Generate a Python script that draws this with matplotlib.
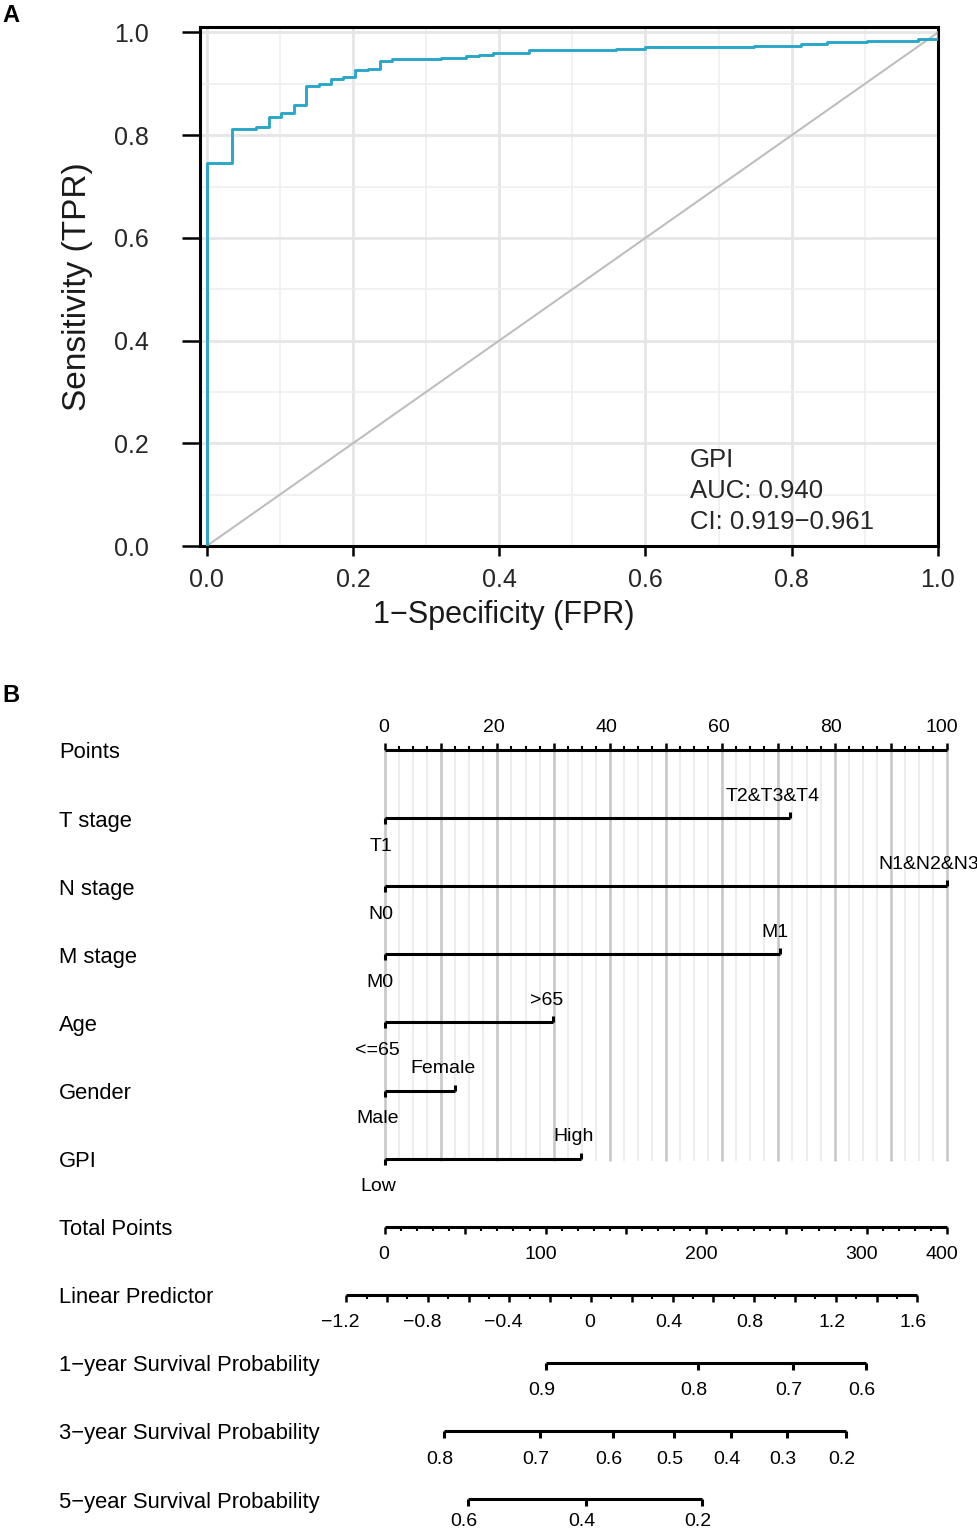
import matplotlib
matplotlib.use('Agg')
import matplotlib.pyplot as plt
from matplotlib.transforms import offset_copy, blended_transform_factory

plt.rcParams['font.family'] = ['Liberation Sans', 'DejaVu Sans']

# ---------------- Panel A data (ROC) ----------------
fpr = [0.0, 0.0, 0.034, 0.068, 0.085, 0.101, 0.119, 0.136, 0.154, 0.170, 0.186,
       0.203, 0.220, 0.237, 0.254, 0.321, 0.355, 0.373, 0.391, 0.441, 0.560,
       0.600, 0.749, 0.813, 0.848, 0.903, 0.973, 1.0]
tpr = [0.0, 0.745, 0.8125, 0.816, 0.836, 0.844, 0.859, 0.896, 0.899, 0.909, 0.9125,
       0.926, 0.929, 0.944, 0.949, 0.950, 0.954, 0.956, 0.961, 0.965, 0.967,
       0.972, 0.974, 0.977, 0.982, 0.984, 0.988, 1.0]
roc_ticks = [0.0, 0.2, 0.4, 0.6, 0.8, 1.0]
roc_minor = [0.1, 0.3, 0.5, 0.7, 0.9]
roc_text = ['GPI', 'AUC: 0.940', 'CI: 0.919\u22120.961']

# ---------------- Panel B data (nomogram) ----------------
points_labels = [0, 20, 40, 60, 80, 100]
points_major = [0, 10, 20, 30, 40, 50, 60, 70, 80, 90, 100]
variables = ['T stage', 'N stage', 'M stage', 'Age', 'Gender', 'GPI']
low_labels = ['T1', 'N0', 'M0', '<=65', 'Male', 'Low']
high_labels = ['T2&T3&T4', 'N1&N2&N3', 'M1', '>65', 'Female', 'High']
high_points = [72.0, 100.0, 70.2, 29.9, 12.4, 34.9]

total_major = [0, 50, 100, 150, 200, 250, 300, 350]
total_label_pos = [0, 100, 200, 300, 350]
total_label_txt = ['0', '100', '200', '300', '400']
total_max = 350

lp_major = [-1.2, -1.0, -0.8, -0.6, -0.4, -0.2, 0.0, 0.2, 0.4, 0.6, 0.8, 1.0, 1.2, 1.4, 1.6]
lp_minor = [-1.1, -0.9, -0.7, -0.5, -0.3, -0.1, 0.1, 0.3, 0.5, 0.7, 0.9, 1.1, 1.3, 1.5]
lp_labels = [-1.2, -0.8, -0.4, 0.0, 0.4, 0.8, 1.2, 1.6]

surv1_prob = ['0.9', '0.8', '0.7', '0.6']
surv1_lp = [-0.222, 0.523, 0.990, 1.348]
surv3_prob = ['0.8', '0.7', '0.6', '0.5', '0.4', '0.3', '0.2']
surv3_lp = [-0.721, -0.250, 0.106, 0.407, 0.686, 0.959, 1.250]
surv5_prob = ['0.6', '0.4', '0.2']
surv5_lp = [-0.603, -0.025, 0.543]

row_names = ['Points'] + variables + ['Total Points', 'Linear Predictor',
             '1\u2212year Survival Probability', '3\u2212year Survival Probability',
             '5\u2212year Survival Probability']

# ---------------- Figure ----------------
W, H, DPI = 978, 1531, 100
fig = plt.figure(figsize=(W / DPI, H / DPI), dpi=DPI)
fig.patch.set_facecolor('white')

# ===== Panel A =====
ax = fig.add_axes([200 / W, 1 - 546 / H, 738 / W, 519 / H])
ax.set_xlim(-0.00916, 1.0)
ax.set_ylim(0.0, 1.0107)
ax.set_xticks(roc_ticks)
ax.set_yticks(roc_ticks)
ax.set_xticks(roc_minor, minor=True)
ax.set_yticks(roc_minor, minor=True)
ax.set_xticklabels([f'{t:.1f}' for t in roc_ticks])
ax.set_yticklabels([f'{t:.1f}' for t in roc_ticks])
ax.grid(which='major', color='#E6E6E6', lw=2.0)
ax.grid(which='minor', color='#EEEEEE', lw=1.1)
ax.set_axisbelow(True)
ax.plot([0, 1], [0, 1], color='#BEBEBE', lw=1.5, zorder=2)
ax.plot(fpr, tpr, drawstyle='steps-post', color='#2AA7C8', lw=2.1, zorder=3)
for s in ax.spines.values():
    s.set_linewidth(2.2)
    s.set_color('black')
ax.tick_params(axis='y', which='major', direction='out', length=13, width=1.8,
               labelsize=18, pad=24, labelcolor='#262626')
ax.tick_params(axis='x', which='major', direction='out', length=7.5, width=1.8,
               labelsize=18, pad=8, labelcolor='#262626')
ax.tick_params(which='minor', length=0)
for i, t in enumerate(roc_text):
    ax.text(0.661, 0.167 - i * 0.0604, t, fontsize=18.5, ha='left', va='center',
            color='#262626')
fig.text(503.5 / W, 1 - 615 / H, '1\u2212Specificity (FPR)', fontsize=22,
         ha='center', va='center', color='#1a1a1a')
fig.text(78 / W, 1 - 287 / H, 'Sensitivity (TPR)', fontsize=24, rotation=90,
         ha='center', va='center', color='#1a1a1a')

fig.text(2 / W, 1 - 16 / H, 'A', fontsize=17, fontweight='bold', ha='left', va='center')
fig.text(2 / W, 1 - 695 / H, 'B', fontsize=17, fontweight='bold', ha='left', va='center')

# ===== Panel B =====
XS = 5.62      # px per point
RS = 68.1      # px per row
X0 = 385       # px of 0 points
R0 = 750       # px of row 0
top_px = 690
axn = fig.add_axes([0, 0, 1, 1 - top_px / H])
axn.set_xlim(-X0 / XS, (W - X0) / XS)
axn.set_ylim((H - R0) / RS, (top_px - R0) / RS)
axn.axis('off')
PR = 1 / RS

LP0 = (591 - X0) / XS
LPS = 204 / XS
def lp_x(v):
    return LP0 + LPS * v
def tot_x(v):
    return v * 100.0 / total_max

LW = 2.2
FS = 14
UP = -22 * PR    # label offset above a line
DN = 28 * PR     # label offset below a line
value_texts = []
cat_texts = []

# grid
grid_minor = [i * 2.5 for i in range(41) if (i * 2.5) % 10 != 0]
axn.vlines(grid_minor, 0, 6.03, color='#EDEDED', lw=1.5, zorder=0)
axn.vlines(points_major, 0, 6.03, color='#C8C8C8', lw=1.9, zorder=0)

# points axis (row 0)
axn.plot([0, 100], [0, 0], color='black', lw=LW, solid_capstyle='butt', zorder=3)
axn.vlines(points_major, 0, -7 * PR, color='black', lw=1.8, zorder=3)
axn.vlines(grid_minor, 0, -4 * PR, color='black', lw=1.5, zorder=3)
for v in points_labels:
    value_texts.append(axn.text(v, UP, str(v), ha='center', va='center', fontsize=FS))

# categorical rows
for i, (lo, hi, hp) in enumerate(zip(low_labels, high_labels, high_points)):
    r = i + 1
    axn.plot([0, hp], [r, r], color='black', lw=LW, solid_capstyle='butt', zorder=3)
    axn.vlines([0], r, r + 6 * PR, color='black', lw=LW, zorder=3)
    axn.vlines([hp], r, r - 6 * PR, color='black', lw=LW, zorder=3)
    cat_texts.append(axn.text(0, r + DN, lo, ha='center', va='center', fontsize=FS))
    cat_texts.append(axn.text(hp, r + UP, hi, ha='center', va='center', fontsize=FS))

# total points (row 7)
r = 7
axn.plot([tot_x(0), tot_x(total_max)], [r, r], color='black', lw=LW, solid_capstyle='butt', zorder=3)
tot_minor = [v for v in range(0, total_max + 1, 10) if v % 50 != 0]
axn.vlines([tot_x(v) for v in total_major], r, r + 7 * PR, color='black', lw=1.8)
axn.vlines([tot_x(v) for v in tot_minor], r, r + 4 * PR, color='black', lw=1.5)
for p, t in zip(total_label_pos, total_label_txt):
    value_texts.append(axn.text(tot_x(p), r + DN, t, ha='center', va='center', fontsize=FS))

# linear predictor (row 8)
r = 8
axn.plot([lp_x(-1.2), lp_x(1.6)], [r, r], color='black', lw=LW, solid_capstyle='butt', zorder=3)
axn.vlines([lp_x(v) for v in lp_major], r, r + 7 * PR, color='black', lw=1.8)
axn.vlines([lp_x(v) for v in lp_minor], r, r + 4 * PR, color='black', lw=1.5)
for v in lp_labels:
    lab = ('%g' % v).replace('-', '\u2212')
    value_texts.append(axn.text(lp_x(v), r + DN, lab, ha='center', va='center', fontsize=FS))

# survival probabilities (rows 9-11)
for r, probs, lps, dn in [(9, surv1_prob, surv1_lp, DN), (10, surv3_prob, surv3_lp, DN),
                          (11, surv5_prob, surv5_lp, 22 * PR)]:
    xs = [lp_x(v) for v in lps]
    axn.plot([min(xs), max(xs)], [r, r], color='black', lw=LW, solid_capstyle='butt', zorder=3)
    axn.vlines(xs, r, r + 7 * PR, color='black', lw=LW)
    for x, p in zip(xs, probs):
        value_texts.append(axn.text(x, r + dn, p, ha='center', va='center', fontsize=FS))

# row names
trans = blended_transform_factory(fig.transFigure, axn.transData)
for i, name in enumerate(row_names):
    axn.text(59 / W, i + 3 * PR, name, transform=trans, ha='left', va='center', fontsize=15.8)

# shift labels slightly left as in the reference
fig.canvas.draw()
renderer = fig.canvas.get_renderer()
for t, frac in [(t, 0.15) for t in value_texts] + [(t, 0.18) for t in cat_texts]:
    w = t.get_window_extent(renderer).width
    t.set_transform(offset_copy(axn.transData, fig=fig, x=-frac * w, y=0, units='dots'))

fig.savefig('out.png', dpi=DPI, facecolor='white')
